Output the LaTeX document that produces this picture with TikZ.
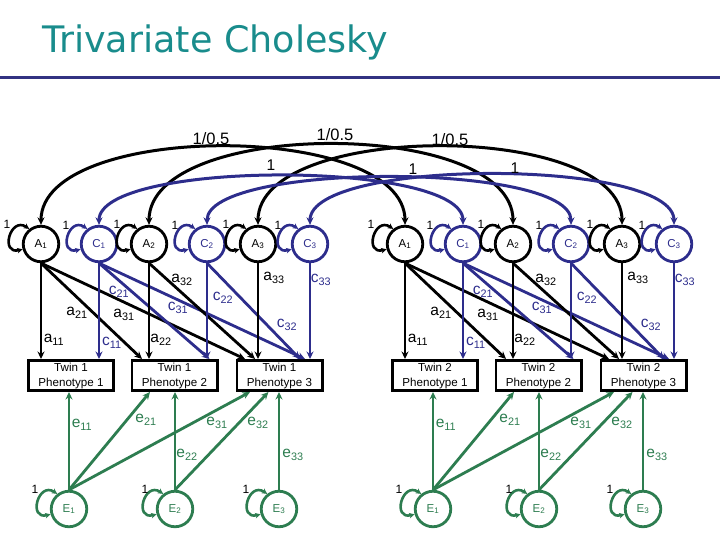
\documentclass[tikz,border=0pt]{standalone}
\usepackage{fontspec}
\setmainfont{Liberation Sans}
\newfontfamily\titlefont{DejaVu Sans}
\usetikzlibrary{arrows.meta}
\definecolor{cblue}{RGB}{45,45,140}
\definecolor{egreen}{RGB}{45,125,80}
\definecolor{ttl}{RGB}{25,140,140}
\definecolor{rulec}{RGB}{50,50,130}
\newcommand\vloopat[2]{\draw[vloop,#2] (#1.128) .. controls +(-19,-13) and +(-23,6) .. (#1.196);}
\begin{document}
\begin{tikzpicture}[x=1pt,y=-1pt,
  >={Stealth[length=7.5pt,width=7pt]},
  lat/.style={circle,draw,line width=2.8pt,fill=white,minimum size=35.5pt,inner sep=0pt,font=\fontsize{11.5}{13}\selectfont},
  latA/.style={lat,draw=black,text=black},
  latC/.style={lat,draw=cblue,text=cblue},
  latE/.style={lat,draw=egreen,text=egreen},
  pheno/.style={draw,line width=2.8pt,minimum width=85.2pt,minimum height=30.2pt,inner sep=0pt,align=center,font=\fontsize{11.6}{15}\selectfont},
  load/.style={line width=2.8pt,->},
  loadA/.style={load,black},
  loadC/.style={load,cblue},
  loadE/.style={load,egreen},
  cov/.style={line width=3pt,<->},
  vloop/.style={line width=2.6pt,{Stealth[length=5.5pt,width=5.5pt]}-{Stealth[length=5.5pt,width=5.5pt]}},
  lab/.style={font=\fontsize{15.5}{15.5}\selectfont,inner sep=0pt},
  one/.style={font=\fontsize{12}{12}\selectfont,inner sep=0pt},
  arclab/.style={font=\fontsize{16.5}{16.5}\selectfont,inner sep=0pt}
]
\useasboundingbox (0,0) rectangle (720,540);
% title
\node[anchor=base west,inner sep=0pt,text=ttl,font=\titlefont\fontsize{36.5}{36.5}\selectfont] (title) at (42,53) {Trivariate Cholesky};
\draw[rulec,line width=3pt] (0,78) -- (720,78);

% nodes for both twins
\foreach \t/\ox in {1/0,2/364}{
  \node[latA] (A1-\t) at (41+\ox,244) {A\textsubscript{1}};
  \node[latC] (C1-\t) at (99+\ox,244) {C\textsubscript{1}};
  \node[latA] (A2-\t) at (149+\ox,244) {A\textsubscript{2}};
  \node[latC] (C2-\t) at (207+\ox,244) {C\textsubscript{2}};
  \node[latA] (A3-\t) at (258+\ox,244) {A\textsubscript{3}};
  \node[latC] (C3-\t) at (310+\ox,244) {C\textsubscript{3}};
  \node[pheno] (P1-\t) at (71+\ox,375.5) {Twin \t\\Phenotype 1};
  \node[pheno] (P2-\t) at (174.5+\ox,375.5) {Twin \t\\Phenotype 2};
  \node[pheno] (P3-\t) at (279.5+\ox,375.5) {Twin \t\\Phenotype 3};
  \node[latE] (E1-\t) at (69+\ox,509) {E\textsubscript{1}};
  \node[latE] (E2-\t) at (175+\ox,509) {E\textsubscript{2}};
  \node[latE] (E3-\t) at (279+\ox,509) {E\textsubscript{3}};
}

% covariance arcs between twins
\draw[cov,black] (A1-1.north) .. controls +(0,-104) and +(0,-104) .. (A1-2.north);
\draw[cov,black] (A2-1.north) .. controls +(0,-107) and +(0,-107) .. (A2-2.north);
\draw[cov,black] (A3-1.north) .. controls +(0,-104) and +(0,-104) .. (A3-2.north);
\draw[cov,cblue] (C1-1.north) .. controls +(0,-65) and +(0,-65) .. (C1-2.north);
\draw[cov,cblue] (C2-1.north) .. controls +(0,-63) and +(0,-63) .. (C2-2.north);
\draw[cov,cblue] (C3-1.north) .. controls +(0,-67) and +(0,-67) .. (C3-2.north);
\node[arclab] (l1) at (211,139) {1/0.5};
\node[arclab] (l2) at (335,135) {1/0.5};
\node[arclab] (l3) at (450,140) {1/0.5};
\node[lab] (l4) at (271,165) {1};
\node[lab] (l5) at (413,169) {1};
\node[lab] (l6) at (515,168) {1};

\foreach \t/\ox in {1/0,2/364}{
  % variance loops
  \vloopat{A1-\t}{black}
  \vloopat{C1-\t}{cblue}
  \vloopat{A2-\t}{black}
  \vloopat{C2-\t}{cblue}
  \vloopat{A3-\t}{black}
  \vloopat{C3-\t}{cblue}
  \vloopat{E1-\t}{egreen}
  \vloopat{E2-\t}{egreen}
  \vloopat{E3-\t}{egreen}
  \node[one] at (7+\ox,224) {1};
  \node[one] at (66+\ox,225) {1};
  \node[one] at (117+\ox,224) {1};
  \node[one] at (175+\ox,225) {1};
  \node[one] at (226+\ox,224) {1};
  \node[one] at (278+\ox,225) {1};
  \node[one] at (35+\ox,489) {1};
  \node[one] at (145+\ox,489) {1};
  \node[one] at (246+\ox,489) {1};
  % A and C loadings
  \draw[loadA] (A1-\t.south) -- ([xshift=-30pt]P1-\t.north);
  \draw[loadA] (A1-\t.south) -- ([xshift=-32.5pt]P2-\t.north);
  \draw[loadA] (A1-\t.south) -- ([xshift=-34.5pt]P3-\t.north);
  \draw[loadC] (C1-\t.south) -- ([xshift=28pt]P1-\t.north);
  \draw[loadC] (C1-\t.south) -- ([xshift=35pt]P2-\t.north);
  \draw[loadC] (C1-\t.south) -- ([xshift=25.5pt]P3-\t.north);
  \draw[loadA] (A2-\t.south) -- ([xshift=-25.5pt]P2-\t.north);
  \draw[loadA] (A2-\t.south) -- ([xshift=-24.5pt]P3-\t.north);
  \draw[loadC] (C2-\t.south) -- ([xshift=32.5pt]P2-\t.north);
  \draw[loadC] (C2-\t.south) -- ([xshift=20.5pt]P3-\t.north);
  \draw[loadA] (A3-\t.south) -- ([xshift=-21.5pt]P3-\t.north);
  \draw[loadC] (C3-\t.south) -- ([xshift=30.5pt]P3-\t.north);
  % E loadings
  \draw[loadE] (E1-\t.north) -- ([xshift=-2pt]P1-\t.south);
  \draw[loadE] (E1-\t.north) -- ([xshift=-24.5pt]P2-\t.south);
  \draw[loadE] (E1-\t.north) -- ([xshift=-29.5pt]P3-\t.south);
  \draw[loadE] (E2-\t.north) -- ([xshift=0.5pt]P2-\t.south);
  \draw[loadE] (E2-\t.north) -- ([xshift=-11pt]P3-\t.south);
  \draw[loadE] (E3-\t.north) -- ([xshift=-0.5pt]P3-\t.south);
  % path labels
  \node[lab] at (54+\ox,340) {a\textsubscript{11}};
  \node[lab] at (77+\ox,313) {a\textsubscript{21}};
  \node[lab] at (124+\ox,315) {a\textsubscript{31}};
  \node[lab,text=cblue] at (112+\ox,343) {c\textsubscript{11}};
  \node[lab,text=cblue] at (119+\ox,292) {c\textsubscript{21}};
  \node[lab,text=cblue] at (178+\ox,308) {c\textsubscript{31}};
  \node[lab] at (161+\ox,340) {a\textsubscript{22}};
  \node[lab] at (182+\ox,280) {a\textsubscript{32}};
  \node[lab,text=cblue] at (223+\ox,298) {c\textsubscript{22}};
  \node[lab,text=cblue] at (287+\ox,325) {c\textsubscript{32}};
  \node[lab] at (274+\ox,278) {a\textsubscript{33}};
  \node[lab,text=cblue] at (321+\ox,280) {c\textsubscript{33}};
  \node[lab,text=egreen] at (82+\ox,425) {e\textsubscript{11}};
  \node[lab,text=egreen] at (146+\ox,420) {e\textsubscript{21}};
  \node[lab,text=egreen] at (217+\ox,423) {e\textsubscript{31}};
  \node[lab,text=egreen] at (258+\ox,423) {e\textsubscript{32}};
  \node[lab,text=egreen] at (187+\ox,455) {e\textsubscript{22}};
  \node[lab,text=egreen] at (293+\ox,455) {e\textsubscript{33}};
}
\end{tikzpicture}
\end{document}
